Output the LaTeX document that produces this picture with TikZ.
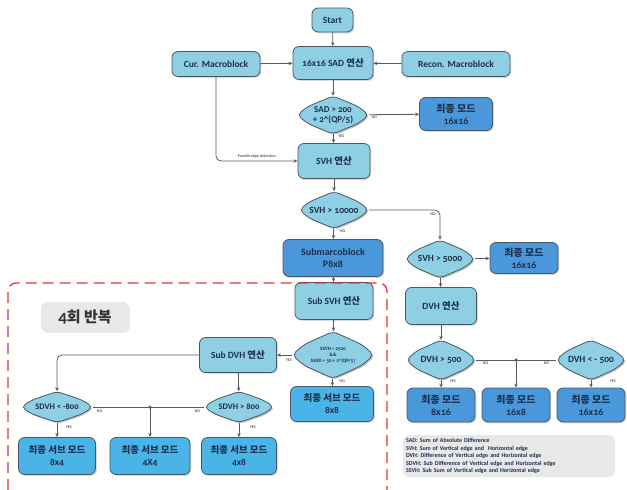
\documentclass[tikz,border=0pt]{standalone}
\usepackage{fontspec}
\setmainfont{Carlito}[Numbers=OldStyle]
\newfontfamily\kr{Noto Sans CJK KR}
\usetikzlibrary{arrows.meta,shadows,positioning}
\definecolor{lb}{HTML}{8ECFE3}
\definecolor{mb}{HTML}{4BB4E6}
\definecolor{db}{HTML}{4A98DA}
\definecolor{bl}{HTML}{4A5866}
\definecolor{tx}{HTML}{1F3050}
\definecolor{ln}{HTML}{5A5A5A}
\definecolor{gr}{HTML}{E8E8E8}
\definecolor{rd}{HTML}{D83A3A}
% decision shape: name, x, y, width, height, font, text
\newcommand\decnode[7]{%
  \fill[black, opacity=0.25, rounded corners=5pt, shift={(1.3,1.3)}]
    (#2,{#3-#5/2}) -- ({#2+0.35*#4},{#3-0.225*#5}) -- ({#2+#4/2},#3)
    -- ({#2+0.35*#4},{#3+0.225*#5}) -- (#2,{#3+#5/2}) -- ({#2-0.35*#4},{#3+0.225*#5})
    -- ({#2-#4/2},#3) -- ({#2-0.35*#4},{#3-0.225*#5}) -- cycle;
  \filldraw[fill=lb, draw=bl, line width=0.8pt, rounded corners=5pt]
    (#2,{#3-#5/2}) -- ({#2+0.35*#4},{#3-0.225*#5}) -- ({#2+#4/2},#3)
    -- ({#2+0.35*#4},{#3+0.225*#5}) -- (#2,{#3+#5/2}) -- ({#2-0.35*#4},{#3+0.225*#5})
    -- ({#2-#4/2},#3) -- ({#2-0.35*#4},{#3-0.225*#5}) -- cycle;
  \node[dtext, minimum width=#4, minimum height=#5, font=#6] (#1) at (#2,#3) {#7};}
\begin{document}
\begin{tikzpicture}[x=1pt,y=-1pt,
  base/.style={draw=bl, line width=0.8pt, text=tx, align=center, inner sep=1pt,
    font=\bfseries\fontsize{9.5}{10.5}\selectfont,
    drop shadow={shadow xshift=1.3pt, shadow yshift=-1.3pt, opacity=0.3}},
  box/.style={base, rectangle, rounded corners=6pt, fill=lb},
  fbox/.style={base, rectangle, rounded corners=6pt, fill=db, font=\bfseries\fontsize{10}{12}\selectfont},
  sbox/.style={base, rectangle, rounded corners=6pt, fill=mb, font=\bfseries\fontsize{9.5}{12}\selectfont},
  dtext/.style={rectangle, inner sep=0pt, text=tx, align=center},
  arr/.style={draw=ln, line width=0.8pt, -{Stealth[length=4pt,width=3.5pt]}},
  lin/.style={draw=ln, line width=0.8pt},
  lab/.style={font=\bfseries\fontsize{4}{4.5}\selectfont, text=ln, inner sep=0.5pt},
  dot/.style={circle, fill=ln, inner sep=0pt, minimum size=3.5pt}
]
\useasboundingbox (0,0) rectangle (627,490);

% top part
\node[box, minimum width=41, minimum height=24] (start) at (332.5,20) {Start};
\node[box, minimum width=80, minimum height=33] (sad) at (333,63) {16x16 SAD {\kr 연산}};
\node[box, minimum width=88, minimum height=25] (cur) at (216,64) {Cur. Macroblock};
\node[box, minimum width=108, minimum height=25] (recon) at (456,64) {Recon. Macroblock};
\decnode{dsad}{333}{115}{72}{38}{\bfseries\fontsize{9}{10}\selectfont}{SAD > 200\\+ 2\^{}(QP/5)}
\node[fbox, minimum width=73, minimum height=33] (m1) at (456,114) {{\kr 최종 모드}\\16x16};
\node[box, minimum width=72, minimum height=35] (svh) at (334,161) {SVH {\kr 연산}};
\decnode{dsvh}{334}{210}{70}{37}{\bfseries\fontsize{9.5}{10}\selectfont}{SVH > 10000}
\node[fbox, minimum width=100, minimum height=37] (sub8) at (333,258) {Submarcoblock\\P8x8};
\decnode{d5000}{440}{259}{70}{38}{\bfseries\fontsize{9.5}{10}\selectfont}{SVH > 5000}
\node[fbox, minimum width=68, minimum height=31] (m2) at (524,258) {{\kr 최종 모드}\\16x16};
\node[box, minimum width=78, minimum height=37] (subsvh) at (334,301) {Sub SVH {\kr 연산}};
\node[box, minimum width=71, minimum height=37] (dvh) at (441,306) {DVH {\kr 연산}};

% repeat region
\node[fill=gr, rounded corners=6pt, minimum width=88, minimum height=30, text=black!80,
  font=\bfseries\fontsize{17}{18}\selectfont,
  drop shadow={shadow xshift=1pt, shadow yshift=-1pt, opacity=0.15}] (rep) at (85,317) {4{\kr\fontsize{15}{16}\selectfont 회 반복}};
\decnode{dssvh}{333}{355}{82}{47}{\bfseries\fontsize{5}{6.2}\selectfont}{SSVH < 2500\\\&\&\\SSAD < 50 + 2\^{}(QP/5)}
\node[box, minimum width=77, minimum height=35] (subdvh) at (238,355) {Sub DVH {\kr 연산}};
\node[sbox, minimum width=83, minimum height=35] (m88) at (332,404) {{\kr 최종 서브 모드}\\8x8};
\decnode{dl}{57}{407}{72}{31}{\bfseries\fontsize{8.5}{9}\selectfont}{SDVH < -800}
\decnode{dr}{239}{407}{70}{31}{\bfseries\fontsize{8.5}{9}\selectfont}{SDVH > 800}
\node[sbox, minimum width=77, minimum height=37] (b84) at (57,456) {{\kr 최종 서브 모드}\\8x4};
\node[sbox, minimum width=80, minimum height=37] (b44) at (150,456) {{\kr 최종 서브 모드}\\4X4};
\node[sbox, minimum width=75, minimum height=37] (b48) at (239,456) {{\kr 최종 서브 모드}\\4x8};

% right part
\decnode{d500}{441}{360}{70}{40}{\bfseries\fontsize{9.5}{10}\selectfont}{DVH > 500}
\decnode{dm500}{591}{360}{70}{40}{\bfseries\fontsize{9.5}{10}\selectfont}{DVH < - 500}
\node[fbox, minimum width=68, minimum height=34] (r1) at (441,405) {{\kr 최종 모드}\\8x16};
\node[fbox, minimum width=68, minimum height=34] (r2) at (516,405) {{\kr 최종 모드}\\16x8};
\node[fbox, minimum width=68, minimum height=34] (r3) at (591,405) {{\kr 최종 모드}\\16x16};

\node[fill=gr, rounded corners=6pt, minimum width=212, minimum height=42, text width=206,
  align=left, inner sep=3pt, text=tx, font=\bfseries\fontsize{6}{7.4}\selectfont] (leg) at (509,456)
  {SAD: Sum of Absolute Difference\\
   SVH: Sum of Vertical edge and \ Horizontal edge\\
   DVH: Difference of Vertical edge and Horizontal edge\\
   SDVH: Sub Difference of Vertical edge and Horizontal edge\\
   SSVH: Sub Sum of Vertical edge and Horizontal edge};

% red dashed region
\draw[rd, line width=1.3pt, dash pattern=on 11pt off 6pt, rounded corners=8pt]
  (8,490) -- (8,283) -- (387,283) -- (387,490);

% connectors
\draw[arr] (start) -- (sad);
\draw[arr] (cur) -- (sad);
\draw[arr] (recon) -- (sad);
\draw[arr] (sad) -- (dsad);
\draw[arr] (dsad) -- (m1) node[lab, pos=0.03, below right] {NO};
\draw[arr] (dsad) -- (svh) node[lab, pos=0.2, right=4pt] {YES};
\draw[arr, rounded corners=5pt] (cur.south) |- (svh.west)
  node[lab, pos=0.75, above=1.5pt] {Prewitt edge detection};
\draw[arr] (svh) -- (dsvh);
\draw[arr, rounded corners=5pt] (dsvh.east) -| (d5000.north)
  node[lab, pos=0.45, below=2pt] {NO};
\draw[arr] (dsvh) -- (sub8) node[lab, pos=0.25, right=5pt] {YES};
\draw[arr] (d5000) -- (m2);
\draw[arr] (d5000) -- (dvh);
\draw[arr] (sub8) -- (subsvh);
\draw[arr] (subsvh) -- (dssvh);
\draw[arr] (dssvh) -- (subdvh) node[lab, pos=0.2, below=3pt] {YES};
\draw[arr] (dssvh) -- (m88) node[lab, pos=0.3, right=6pt] {NO};
\draw[arr, rounded corners=5pt] (subdvh.west) -| (dl.north);
\draw[arr] (subdvh) -- (dr);
\coordinate (j1) at (b44.north |- dl.east);
\draw[lin] (dl.east) -- (dr.west);
\node[dot] at (j1) {};
\draw[arr] (j1) -- (b44);
\node[lab, below right=2pt and 3pt] at (dl.east) {NO};
\node[lab, below left=2pt and 3pt] at (dr.west) {NO};
\draw[arr] (dl) -- (b84) node[lab, pos=0.3, right=8pt] {YES};
\draw[arr] (dr) -- (b48) node[lab, pos=0.3, right=10pt] {YES};
\draw[arr] (dvh) -- (d500);
\coordinate (j2) at (r2.north |- d500.east);
\draw[lin] (d500.east) -- (dm500.west);
\node[dot] at (j2) {};
\draw[arr] (j2) -- (r2);
\node[lab, below right=1pt and 6pt] at (d500.east) {NO};
\node[lab, below left=1pt and 6pt] at (dm500.west) {NO};
\draw[arr] (d500) -- (r1) node[lab, pos=0.15, right=8pt] {YES};
\draw[arr] (dm500) -- (r3) node[lab, pos=0.15, right=18pt] {YES};
\end{tikzpicture}
\end{document}
